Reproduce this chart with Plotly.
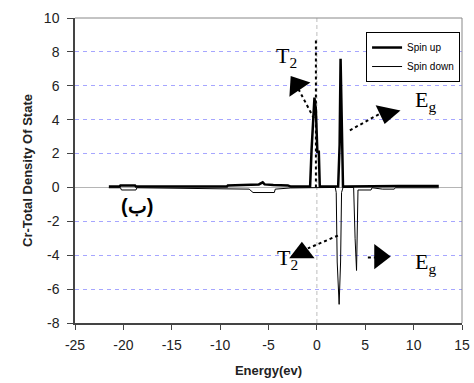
import plotly.graph_objects as go

# ---- data ----
spin_up_E = [-21.5, -20.4, -20.3, -18.8, -18.7, -9.3, -9.2, -7.0, -6.0, -5.6, -5.4, -4.5, -3.0, -2.7,
             -0.7, -0.55, -0.4, -0.25, -0.1, 0.05, 0.2, 0.3,
             2.2, 2.35, 2.45, 2.6, 2.7, 3.0, 6.8, 8.1, 8.4, 12.6]
spin_up_DOS = [0.05, 0.05, 0.12, 0.12, 0.05, 0.05, 0.12, 0.15, 0.18, 0.3, 0.18, 0.15, 0.12, 0.05,
               0.05, 2.2, 4.0, 5.3, 4.5, 2.1, 2.1, 0.05,
               0.05, 2.5, 7.6, 2.5, 0.05, 0.05, 0.08, 0.08, 0.08, 0.08]

# narrow spike just below the Fermi level (drawn dotted in the reference)
spike_E = [-0.1, -0.1]
spike_DOS = [0.0, 8.7]

spin_down_E = [-21.5, -20.3, -20.2, -18.7, -18.6, -9.2, -7.0, -6.6, -4.4, -4.3, -2.7,
               1.9, 2.0, 2.1, 2.3, 2.45, 2.55, 2.7,
               3.8, 3.95, 4.1, 4.25, 5.6, 5.7, 6.8, 8.0, 8.1, 12.6]
spin_down_DOS = [-0.02, -0.02, -0.15, -0.15, -0.02, -0.05, -0.1, -0.3, -0.3, -0.1, -0.03,
                 0.0, -0.3, -4.4, -6.9, -4.4, -0.3, 0.0,
                 0.0, -3.0, -4.9, -0.15, -0.15, -0.02, -0.1, -0.1, -0.02, -0.02]

x_ticks = [-25, -20, -15, -10, -5, 0, 5, 10, 15]
y_ticks = [-8, -6, -4, -2, 0, 2, 4, 6, 8, 10]

fig = go.Figure()
fig.add_trace(go.Scatter(x=spin_up_E, y=spin_up_DOS, mode="lines", name="Spin up",
                         line=dict(color="black", width=2.5)))
fig.add_trace(go.Scatter(x=spin_down_E, y=spin_down_DOS, mode="lines", name="Spin down",
                         line=dict(color="black", width=1)))
fig.add_trace(go.Scatter(x=spike_E, y=spike_DOS, mode="lines", showlegend=False,
                         line=dict(color="black", width=2, dash="dot")))

# Fermi level (dashed gray vertical)
fig.add_shape(type="line", x0=0, x1=0, y0=-8, y1=10, xref="x", yref="y",
              line=dict(color="#bdbdbd", width=1, dash="4px,3px"), layer="below")

# dotted arrows: (tail, head end, triangle centre, symbol, angle)
arrows = [
    ((-0.31, 4.08), (-1.9, 5.8), (-2.07, 6.04), "triangle-up", -34),
    ((3.41, 3.37), (6.6, 4.38), (7.24, 4.38), "triangle-down", 12),
    ((2.17, -2.84), (-0.93, -3.6), (-1.55, -3.85), "triangle-up", 0),
    ((5.27, -4.14), (6.0, -4.14), (6.5, -4.08), "triangle-right", 0),
]
for (x0, y0), (x1, y1), (cx, cy), sym, ang in arrows:
    fig.add_shape(type="line", x0=x0, y0=y0, x1=x1, y1=y1, xref="x", yref="y",
                  line=dict(color="black", width=2, dash="dot"))
    fig.add_trace(go.Scatter(x=[cx], y=[cy], mode="markers", showlegend=False,
                             marker=dict(symbol=sym, size=22, angle=ang, color="black",
                                         line=dict(width=0))))

serif = dict(family="Liberation Serif, Times New Roman, serif", size=22, color="black")
for txt, x, y in [("T<sub>2</sub>", -4.45, 7.7), ("E<sub>g</sub>", 9.9, 5.1),
                  ("T<sub>2</sub>", -4.35, -4.25), ("E<sub>g</sub>", 9.9, -4.45)]:
    fig.add_annotation(x=x, y=y, text=txt, showarrow=False, xanchor="left", yanchor="middle",
                       font=serif)

fig.add_annotation(x=-18.6, y=-1.07, text="<b>(ب)</b>", showarrow=False,
                   font=dict(family="Liberation Sans, Arial, sans-serif", size=20, color="black"))

fig.update_layout(
    width=474, height=383,
    margin=dict(l=75, r=12, t=18, b=60),
    paper_bgcolor="white", plot_bgcolor="white",
    font=dict(family="Liberation Sans, Arial, sans-serif", size=14, color="#222"),
    showlegend=True,
    legend=dict(x=0.995, y=0.954, xanchor="right", yanchor="top",
                bgcolor="white", bordercolor="black", borderwidth=1,
                font=dict(size=10, color="black"), tracegroupgap=0),
    xaxis=dict(range=[-25, 15], tickvals=x_ticks, ticktext=[str(v) for v in x_ticks],
               showgrid=False, zeroline=False, automargin=False,
               showline=True, linecolor="#444", linewidth=1.5, mirror=False,
               ticks="outside", ticklen=5, tickcolor="#444", ticklabelstandoff=3,
               title=dict(text="<b>Energy(ev)</b>", font=dict(size=13, color="#222"), standoff=14)),
    yaxis=dict(range=[-8, 10], tickvals=y_ticks, ticktext=[str(v) for v in y_ticks],
               showgrid=True, gridcolor="#a6a6ff", griddash="4px,4px", gridwidth=1,
               zeroline=True, zerolinecolor="#b5b5b5", zerolinewidth=1, automargin=False,
               showline=True, linecolor="#444", linewidth=1.5,
               ticks="outside", ticklen=6, tickcolor="#444", ticklabelstandoff=5,
               title=dict(text="<b>Cr-Total Density Of State</b>", font=dict(size=13, color="#222"),
                          standoff=8)),
)
# frame on top and right
fig.add_shape(type="line", xref="paper", yref="paper", x0=0, x1=1, y0=1, y1=1,
              line=dict(color="#888", width=1))
fig.add_shape(type="line", xref="paper", yref="paper", x0=1, x1=1, y0=0, y1=1,
              line=dict(color="#888", width=1))

fig.write_html("out.html")
